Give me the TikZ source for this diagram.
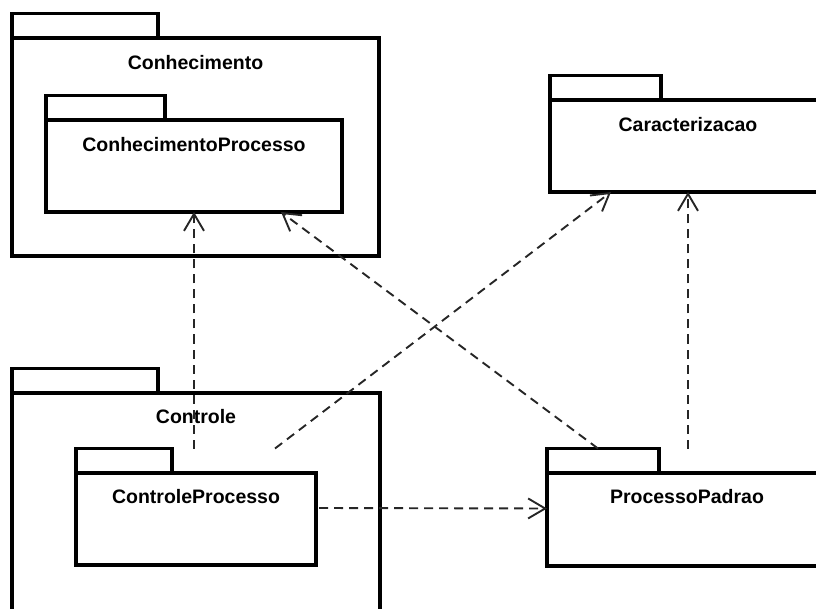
\documentclass[tikz,border=0pt]{standalone}
\usepackage{fontspec}
\setmainfont{Liberation Sans}
\usetikzlibrary{arrows.meta,calc}

\begin{document}
\begin{tikzpicture}[x=1pt,y=-1pt,
  pkgbody/.style={draw, line width=3.2pt, rectangle, inner sep=0pt, outer sep=0pt, anchor=north west},
  pkgtab/.style={draw, line width=3.2pt, rectangle, inner sep=0pt, outer sep=0pt, anchor=south west, minimum height=24.5pt},
  pkgtitle/.style={font=\bfseries\fontsize{19.5}{21}\selectfont, inner sep=0pt, anchor=center},
  dep/.style={line width=1.9pt, draw=black!85, dash pattern=on 9pt off 6pt,
    -{Straight Barb[length=17pt, width=20pt, line width=1.9pt]}}
]
\useasboundingbox (0,0) rectangle (816,609);
\clip (0,0) rectangle (816,609);

% outer packages
\node[pkgbody, minimum width=367pt, minimum height=218pt] (conh) at (12,38) {};
\node[pkgtab, minimum width=146pt] (conhtab) at (conh.north west) {};
\node[pkgtitle] (conhlbl) at ($(conh.north)+(0,25)$) {Conhecimento};

\node[pkgbody, minimum width=368pt, minimum height=240pt] (ctrl) at (12,393) {};
\node[pkgtab, minimum width=146pt] (ctrltab) at (ctrl.north west) {};
\node[pkgtitle] (ctrllbl) at ($(ctrl.north)+(0,24)$) {Controle};

\node[pkgbody, minimum width=276pt, minimum height=92pt] (car) at (550,100) {};
\node[pkgtab, minimum width=111pt] (cartab) at (car.north west) {};
\node[pkgtitle] (carlbl) at ($(car.north)+(0,25)$) {Caracterizacao};

\node[pkgbody, minimum width=280pt, minimum height=93pt] (pp) at (547,473) {};
\node[pkgtab, minimum width=112pt] (pptab) at (pp.north west) {};
\node[pkgtitle] (pplbl) at ($(pp.north)+(0,24)$) {ProcessoPadrao};

% nested packages
\node[pkgbody, minimum width=296pt, minimum height=92pt] (ckp) at (46,120) {};
\node[pkgtab, minimum width=119pt] (ckptab) at (ckp.north west) {};
\node[pkgtitle] (ckplbl) at ($(ckp.north)+(0,25)$) {ConhecimentoProcesso};

\node[pkgbody, minimum width=240pt, minimum height=92pt] (cp) at (76,473) {};
\node[pkgtab, minimum width=96pt] (cptab) at (cp.north west) {};
\node[pkgtitle] (cplbl) at ($(cp.north)+(0,24)$) {ControleProcesso};

% dependency end points
\coordinate (cpA) at ($(cptab.north west)+(199,0)$);
\coordinate (ppA) at ($(pptab.north west)+(51,0)$);

% dependencies
\draw[dep] (ckp.south |- cptab.north) -- (ckp.south);
\draw[dep] (cpA) -- ($(car.south west)+(61,0)$);
\draw[dep] (ppA) -- ($(ckp.south west)+(235,0)$);
\draw[dep] (pptab.north -| car.south) -- (car.south);
\draw[dep] ($(cp.east)+(3,-11)$) -- ($(pp.west)+(0,-11)$);
\end{tikzpicture}
\end{document}
